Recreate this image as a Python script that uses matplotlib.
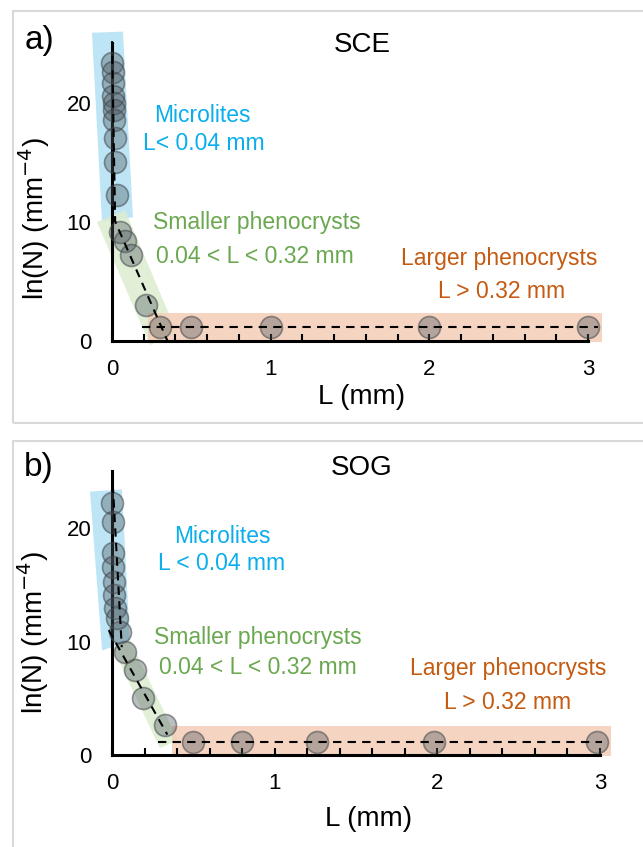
import matplotlib.pyplot as plt
from matplotlib.patches import Polygon, Rectangle
import numpy as np

plt.rcParams['font.family'] = ['Liberation Sans', 'DejaVu Sans']

# ---- data ----
# panel a (SCE)
sce_micro_L = [0.002, 0.004, 0.006, 0.008, 0.010, 0.012, 0.014, 0.017, 0.022, 0.030]
sce_micro_lnN = [23.4, 22.6, 21.7, 20.6, 20.0, 19.4, 18.6, 17.1, 15.0, 12.3]
sce_small_L = [0.050, 0.082, 0.12, 0.214]
sce_small_lnN = [9.2, 8.4, 7.2, 3.0]
sce_large_L = [0.30, 0.50, 1.0, 2.0, 3.0]
sce_large_lnN = [1.2, 1.2, 1.2, 1.2, 1.2]
sce_fit_micro = ([0.0, 0.02], [25.2, 10.0])
sce_fit_small = ([0.005, 0.35], [10.5, 0.0])
sce_fit_large = ([0.19, 3.06], [1.2, 1.2])

# panel b (SOG)
sog_micro_L = [0.002, 0.004, 0.006, 0.009, 0.012, 0.015, 0.020, 0.030, 0.048]
sog_micro_lnN = [22.2, 20.5, 17.8, 16.6, 15.2, 14.1, 12.95, 12.1, 10.8]
sog_small_L = [0.08, 0.14, 0.19, 0.325]
sog_small_lnN = [9.1, 7.5, 5.0, 2.6]
sog_large_L = [0.50, 0.80, 1.26, 1.98, 2.98]
sog_large_lnN = [1.15, 1.15, 1.15, 1.15, 1.15]
sog_fit_micro = ([0.0, 0.06], [25.1, 9.5])
sog_fit_small = ([-0.02, 0.34], [11.0, 1.8])
sog_fit_large = ([0.28, 3.01], [1.15, 1.15])

# shaded regions (data coords)
sce_blue_band = [(-0.126, 25.9), (0.069, 26.0), (0.132, 10.4), (-0.063, 10.0)]
sce_green_band = [(-0.095, 10.0), (0.082, 11.0), (0.41, 0.67), (0.24, -0.34)]
sce_orange_band = (0.227, 3.09, -0.1, 2.35)
sog_blue_band = [(-0.135, 23.2), (0.061, 23.4), (0.110, 10.1), (-0.061, 9.2)]
sog_green_band = [(0.006, 9.4), (0.11, 10.1), (0.405, 1.3), (0.294, 0.6)]
sog_orange_band = (0.37, 3.07, -0.1, 2.55)

BLUE_TXT = '#0aaeec'
GREEN_TXT = '#6aa84f'
ORANGE_TXT = '#c55a11'

W, H = 643, 847
fig = plt.figure(figsize=(W / 100, H / 100), dpi=100)

# light panel frames
for (x0, y0, x1, y1) in [(13, 11, 660, 423), (13, 441, 660, 870)]:
    fig.patches.append(Rectangle((x0 / W, 1 - y1 / H), (x1 - x0) / W, (y1 - y0) / H,
                                 transform=fig.transFigure, fill=False,
                                 edgecolor='#d9d9d9', lw=1.5, clip_on=False))


def draw_panel(ax, micro, small, large, fits, blue, green, orange, ylab_y, xlab_y):
    ax.add_patch(Polygon(blue, closed=True, facecolor='#bde5f6', edgecolor='none',
                         zorder=1, clip_on=False))
    ax.add_patch(Polygon(green, closed=True, facecolor='#dcedd0', edgecolor='none',
                         alpha=0.85, zorder=1, clip_on=False))
    ox0, ox1, oy0, oy1 = orange
    ax.add_patch(Rectangle((ox0, oy0), ox1 - ox0, oy1 - oy0, facecolor='#f4cdb6',
                           edgecolor='none', alpha=0.85, zorder=1, clip_on=False))

    for L, n in (micro, small, large):
        ax.scatter(L, n, s=250, facecolor=(0.3, 0.34, 0.37, 0.38),
                   edgecolor=(0.25, 0.27, 0.29, 0.55), linewidth=1.2,
                   zorder=3, clip_on=False)
    for fx, fy in fits:
        ax.plot(fx, fy, color='black', lw=1.5, dashes=(4, 3), zorder=4, clip_on=False)

    ax.set_xlim(0, 3)
    ax.set_ylim(0, 25)
    ax.spines['top'].set_visible(False)
    ax.spines['right'].set_visible(False)
    for s in ('left', 'bottom'):
        ax.spines[s].set_linewidth(2.2)
        ax.spines[s].set_zorder(2)
    ticks = np.arange(0, 3.01, 0.2)
    ax.set_xticks(ticks)
    ax.set_xticklabels([str(int(round(t))) if abs(t - round(t)) < 1e-9 else '' for t in ticks])
    ax.set_yticks([0, 10, 20])
    ax.tick_params(axis='x', direction='in', length=5, width=1.5, pad=13, labelsize=16)
    ax.tick_params(axis='y', direction='in', length=0, pad=15, labelsize=16)
    ax.patch.set_alpha(0)

    ax.set_xlabel('L (mm)', fontsize=20)
    ax.set_ylabel('ln(N) (mm$^{-4}$)', fontsize=20)
    ax.yaxis.set_label_coords(-0.125, ylab_y)
    ax.xaxis.set_label_coords(0.525, xlab_y)


ax_a = fig.add_axes([112 / W, 1 - 341 / H, 476 / W, 297.5 / H])
draw_panel(ax_a, (sce_micro_L, sce_micro_lnN), (sce_small_L, sce_small_lnN),
           (sce_large_L, sce_large_lnN), [sce_fit_micro, sce_fit_small, sce_fit_large],
           sce_blue_band, sce_green_band, sce_orange_band, 0.41, -0.143)

ax_b = fig.add_axes([112 / W, 1 - 755 / H, 488 / W, 283.75 / H])
draw_panel(ax_b, (sog_micro_L, sog_micro_lnN), (sog_small_L, sog_small_lnN),
           (sog_large_L, sog_large_lnN), [sog_fit_micro, sog_fit_small, sog_fit_large],
           sog_blue_band, sog_green_band, sog_orange_band, 0.43, -0.18)


def ftext(px, py, s, **kw):
    fig.text(px / W, 1 - py / H, s, ha='center', va='center', **kw)


ftext(39, 40, 'a)', fontsize=24)
ftext(39, 467, 'b)', fontsize=24)
ftext(362, 45, 'SCE', fontsize=20)
ftext(362, 468, 'SOG', fontsize=20)

ann = 16.5
ftext(202, 115, 'Microlites', fontsize=ann, color=BLUE_TXT)
ftext(204, 143, 'L< 0.04 mm', fontsize=ann, color=BLUE_TXT)
ftext(257, 223, 'Smaller phenocrysts', fontsize=ann, color=GREEN_TXT)
ftext(255, 256, '0.04 < L < 0.32 mm', fontsize=ann, color=GREEN_TXT)
ftext(499, 259, 'Larger phenocrysts', fontsize=ann, color=ORANGE_TXT)
ftext(502, 292, 'L > 0.32 mm', fontsize=ann, color=ORANGE_TXT)

ftext(222, 536, 'Microlites', fontsize=ann, color=BLUE_TXT)
ftext(222, 563, 'L < 0.04 mm', fontsize=ann, color=BLUE_TXT)
ftext(258, 637, 'Smaller phenocrysts', fontsize=ann, color=GREEN_TXT)
ftext(258, 667, '0.04 < L < 0.32 mm', fontsize=ann, color=GREEN_TXT)
ftext(508, 668, 'Larger phenocrysts', fontsize=ann, color=ORANGE_TXT)
ftext(508, 702, 'L > 0.32 mm', fontsize=ann, color=ORANGE_TXT)

fig.savefig('out.png', dpi=100)
